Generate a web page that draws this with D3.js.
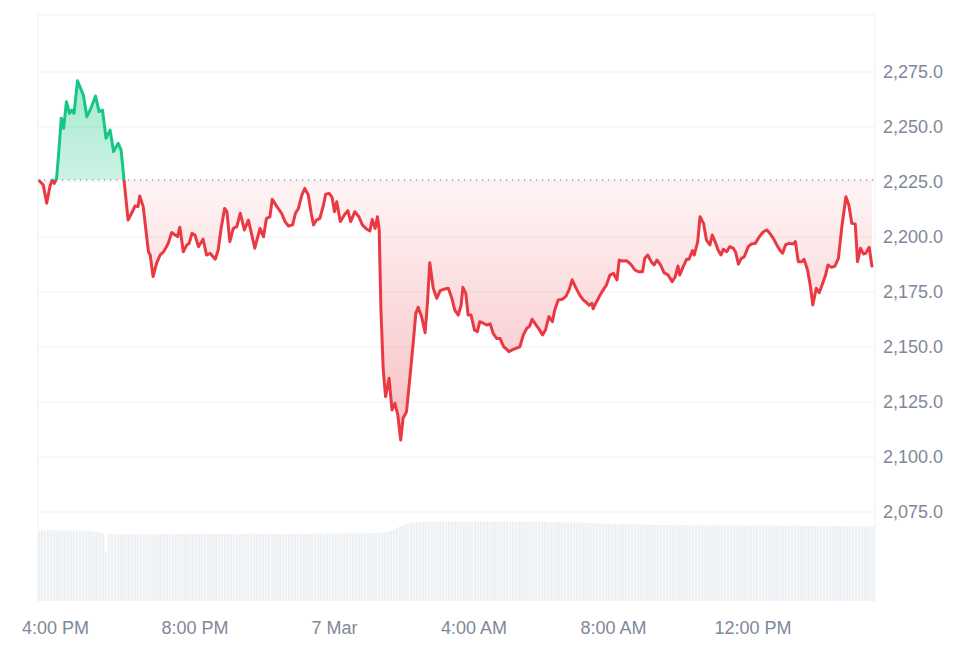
<!DOCTYPE html>
<html>
<head>
<meta charset="utf-8">
<script src="https://cdn.jsdelivr.net/npm/d3@7/dist/d3.min.js"></script>
<style>
  html, body { margin: 0; padding: 0; background: #ffffff; }
  svg { display: block; }
  text { font-family: "Liberation Sans", Arial, Helvetica, sans-serif; }
</style>
</head>
<body>
<svg id="chart" width="980" height="653"></svg>
<script>
// ---- data ----
const startTime = "2025-03-06T15:30:00";
const windowHours = 24;

// minutes after startTime
const minutes = [1,9,15,21,25,28,32,36,40,44,49,54,58,62,68,78,84,91,99,105,111,117,124,130,138,143,148,155,161,167,172,175,181,190,193,198,204,210,216,221,224,230,236,240,244,250,256,260,265,270,276,284,290,296,305,310,315,321,325,330,336,342,348,355,362,373,382,388,393,399,403,411,419,425,431,438,443,448,454,459,465,470,474,479,485,491,495,501,506,510,514,520,527,533,538,545,552,558,566,571,575,580,584,587,590,594,598,604,609,614,619,624,628,634,640,646,650,654,660,666,670,674,680,686,692,700,706,712,717,723,728,731,736,740,745,751,756,760,766,772,778,783,789,795,801,806,810,815,822,829,835,841,846,850,855,861,868,873,879,885,889,895,902,908,914,919,925,932,938,944,948,953,955,961,967,973,978,984,990,996,1000,1005,1013,1020,1027,1033,1040,1044,1049,1055,1060,1065,1071,1077,1084,1091,1096,1101,1104,1110,1116,1120,1126,1129,1135,1139,1145,1150,1156,1160,1166,1170,1175,1179,1185,1190,1196,1200,1205,1210,1215,1222,1227,1234,1241,1248,1254,1259,1265,1271,1277,1281,1286,1292,1299,1303,1308,1314,1318,1324,1329,1333,1339,1344,1350,1355,1359,1365,1371,1377,1383,1390,1395,1400,1406,1410,1415,1420,1424,1430,1435];

const prices = [2225.9,2223.6,2215.3,2223.6,2225.9,2224.4,2226.7,2239.5,2254.0,2249.4,2261.5,2256.2,2257.7,2256.2,2271.0,2264.5,2254.7,2258.5,2264.1,2257.0,2257.7,2244.9,2248.6,2238.8,2242.6,2239.5,2225.9,2207.7,2210.8,2214.1,2213.8,2218.6,2213.8,2193.3,2191.8,2182.0,2188.0,2191.8,2193.3,2195.6,2197.1,2202.0,2200.9,2200.2,2204.4,2193.3,2196.4,2197.1,2201.7,2200.9,2195.6,2199.0,2191.8,2192.6,2189.9,2194.1,2203.9,2213.0,2211.5,2197.9,2203.9,2204.7,2210.8,2203.2,2207.7,2194.9,2203.9,2200.1,2208.5,2209.2,2217.1,2213.8,2210.8,2207.0,2205.0,2205.5,2210.8,2213.0,2219.1,2222.1,2219.1,2210.8,2205.5,2207.7,2208.5,2214.5,2219.5,2219.8,2218.0,2211.5,2216.0,2207.0,2210.0,2212.0,2207.0,2211.5,2209.2,2205.5,2203.5,2202.7,2208.0,2203.9,2209.2,2203.2,2166.8,2139.5,2127.4,2135.8,2121.4,2124.4,2119.1,2107.7,2117.6,2120.6,2136.5,2153.2,2165.3,2168.0,2163.8,2156.5,2169.9,2188.3,2176.7,2172.1,2175.6,2176.4,2176.7,2172.1,2166.8,2164.5,2169.1,2177.1,2174.4,2164.5,2164.5,2157.7,2157.0,2161.5,2160.8,2160.0,2160.5,2156.2,2153.9,2153.9,2150.1,2149.1,2147.9,2148.6,2149.4,2150.1,2155.5,2158.5,2159.5,2162.6,2160.7,2158.5,2155.5,2157.7,2163.8,2161.5,2166.8,2171.4,2171.7,2172.9,2176.2,2180.5,2177.1,2173.6,2171.4,2170.1,2169.0,2169.9,2167.4,2170.6,2173.6,2176.2,2178.2,2182.7,2183.5,2180.5,2189.5,2189.1,2189.2,2187.6,2185.0,2184.2,2184.2,2190.3,2191.8,2188.8,2187.3,2189.5,2187.3,2183.8,2182.7,2179.7,2181.7,2186.8,2182.7,2186.5,2189.9,2189.9,2193.8,2191.8,2197.9,2209.2,2206.2,2198.6,2196.4,2200.9,2197.1,2194.1,2191.8,2194.4,2193.3,2195.6,2194.9,2193.3,2187.7,2190.3,2191.0,2195.6,2196.8,2197.1,2200.1,2202.4,2203.2,2201.7,2199.4,2196.4,2193.8,2192.6,2196.4,2197.1,2196.8,2197.9,2188.8,2188.8,2189.8,2185.0,2177.4,2169.1,2176.7,2174.7,2179.0,2182.7,2187.3,2186.2,2186.8,2190.3,2204.7,2218.3,2214.5,2206.2,2205.9,2188.8,2194.9,2192.3,2192.6,2195.3,2186.2];

// 24h volume (billions), one bar per 5 minutes from startTime
const volumes = [
7.85,7.92,7.80,7.88,7.83,7.90,7.86,7.79,7.84,7.88,7.82,7.76,7.85,7.80,7.78,7.83,7.74,7.80,7.77,7.72,7.70,7.55,7.52,5.40,
7.45,7.40,7.44,7.38,7.42,7.46,7.40,7.43,7.37,7.41,7.45,7.39,7.42,7.36,7.40,7.44,7.38,7.41,7.47,7.40,7.43,7.46,7.39,7.42,
7.44,7.48,7.41,7.45,7.50,7.43,7.46,7.40,7.44,7.49,7.42,7.45,7.47,7.41,7.44,7.48,7.43,7.46,7.50,7.42,7.45,7.48,7.44,7.47,
7.43,7.47,7.50,7.44,7.41,7.46,7.49,7.43,7.45,7.42,7.47,7.44,7.40,7.45,7.48,7.43,7.46,7.50,7.44,7.47,7.42,7.45,7.49,7.46,
7.48,7.52,7.46,7.50,7.55,7.49,7.53,7.47,7.51,7.56,7.50,7.54,7.48,7.52,7.58,7.51,7.55,7.60,7.53,7.57,7.62,7.56,7.60,7.65,
7.70,7.85,7.95,8.10,8.25,8.40,8.55,8.62,8.70,8.74,8.78,8.80,8.76,8.82,8.79,8.84,8.80,8.77,8.83,8.81,8.78,8.85,8.80,8.82,
8.84,8.79,8.83,8.86,8.80,8.78,8.84,8.81,8.76,8.82,8.85,8.79,8.83,8.80,8.77,8.82,8.86,8.80,8.78,8.84,8.81,8.79,8.83,8.80,
8.78,8.82,8.76,8.80,8.74,8.79,8.83,8.77,8.72,8.78,8.75,8.80,8.73,8.77,8.70,8.75,8.72,8.68,8.74,8.70,8.66,8.72,8.68,8.64,
8.62,8.58,8.60,8.55,8.59,8.52,8.56,8.50,8.54,8.58,8.51,8.55,8.49,8.53,8.57,8.50,8.46,8.52,8.48,8.44,8.50,8.46,8.42,8.48,
8.44,8.40,8.46,8.42,8.38,8.44,8.40,8.47,8.41,8.37,8.43,8.39,8.45,8.41,8.36,8.42,8.38,8.44,8.40,8.35,8.41,8.37,8.43,8.39,
8.40,8.36,8.42,8.38,8.34,8.40,8.44,8.37,8.33,8.39,8.35,8.41,8.37,8.32,8.38,8.34,8.40,8.36,8.31,8.37,8.33,8.39,8.35,8.30,
8.36,8.32,8.38,8.34,8.30,8.36,8.33,8.29,8.35,8.31,8.37,8.33,8.28,8.34,8.30,8.36,8.32,8.27,8.33,8.29,8.35,8.31,8.26,8.30
];

const yTickValues = [2075, 2100, 2125, 2150, 2175, 2200, 2225, 2250, 2275];
const xTickTimes = ["2025-03-06T16:00:00","2025-03-06T20:00:00","2025-03-07T00:00:00","2025-03-07T04:00:00","2025-03-07T08:00:00","2025-03-07T12:00:00"];
const xTickLabels = ["4:00 PM","8:00 PM","7 Mar","4:00 AM","8:00 AM","12:00 PM"];

// ---- layout ----
const L = 38, R = 875, T = 15, B = 601;
const UP = "#16c784", DOWN = "#ea3943", TXT = "#7f8899", GRID = "#eff1f4";

const t0 = new Date(startTime);
const t1 = new Date(t0.getTime() + windowHours * 3600e3);
const x = d3.scaleTime().domain([t0, t1]).range([L, R]);
const y = d3.scaleLinear().domain([2075, 2275]).range([512, 72]);
const yVol = d3.scaleLinear().domain([0, 10]).range([B, B - 90]);

const data = minutes.map((m, i) => ({ t: new Date(t0.getTime() + m * 60e3), p: prices[i] }));
const base = prices[0];
const yb = y(base);

const svg = d3.select("#chart");
const defs = svg.append("defs");

// gradients
const gUp = defs.append("linearGradient").attr("id", "gUp").attr("gradientUnits", "userSpaceOnUse")
  .attr("x1", 0).attr("x2", 0).attr("y1", y(d3.max(prices))).attr("y2", yb);
gUp.append("stop").attr("offset", 0).attr("stop-color", UP).attr("stop-opacity", 0.38);
gUp.append("stop").attr("offset", 1).attr("stop-color", UP).attr("stop-opacity", 0.22);
const gDn = defs.append("linearGradient").attr("id", "gDn").attr("gradientUnits", "userSpaceOnUse")
  .attr("x1", 0).attr("x2", 0).attr("y1", yb).attr("y2", y(d3.min(prices)));
gDn.append("stop").attr("offset", 0).attr("stop-color", DOWN).attr("stop-opacity", 0.05);
gDn.append("stop").attr("offset", 1).attr("stop-color", DOWN).attr("stop-opacity", 0.32);

defs.append("clipPath").attr("id", "cUp").append("rect")
  .attr("x", L).attr("y", 0).attr("width", R - L).attr("height", yb);
defs.append("clipPath").attr("id", "cDn").append("rect")
  .attr("x", L).attr("y", yb).attr("width", R - L).attr("height", 653 - yb);

// frame + grid
svg.append("g").selectAll("line").data(yTickValues).join("line")
  .attr("x1", L).attr("x2", R).attr("y1", d => y(d)).attr("y2", d => y(d))
  .attr("stroke", GRID).attr("stroke-width", 1);
svg.append("line").attr("x1", L).attr("x2", R).attr("y1", T).attr("y2", T).attr("stroke", GRID);
svg.append("line").attr("x1", L).attr("x2", L).attr("y1", T).attr("y2", B).attr("stroke", GRID);
svg.append("line").attr("x1", R).attr("x2", R).attr("y1", T).attr("y2", B).attr("stroke", GRID);

// volume bars
const step = (R - L) / volumes.length;
svg.append("g").selectAll("rect").data(volumes).join("rect")
  .attr("x", (d, i) => x(new Date(t0.getTime() + i * 5 * 60e3)))
  .attr("width", step - 0.5)
  .attr("y", d => yVol(d))
  .attr("height", d => B - yVol(d))
  .attr("fill", "#eef1f4");

// areas
const area = d3.area().x(d => x(d.t)).y0(yb).y1(d => y(d.p));
svg.append("path").datum(data).attr("d", area).attr("fill", "url(#gUp)").attr("clip-path", "url(#cUp)");
svg.append("path").datum(data).attr("d", area).attr("fill", "url(#gDn)").attr("clip-path", "url(#cDn)");

// baseline
svg.append("line").attr("x1", L).attr("x2", R).attr("y1", yb).attr("y2", yb)
  .attr("stroke", "#9aa0aa").attr("stroke-width", 1.3).attr("stroke-dasharray", "1.3,4.7");

// lines
const line = d3.line().x(d => x(d.t)).y(d => y(d.p));
svg.append("path").datum(data).attr("d", line).attr("fill", "none").attr("stroke", UP)
  .attr("stroke-width", 3).attr("stroke-linejoin", "round").attr("clip-path", "url(#cUp)");
svg.append("path").datum(data).attr("d", line).attr("fill", "none").attr("stroke", DOWN)
  .attr("stroke-width", 3).attr("stroke-linejoin", "round").attr("clip-path", "url(#cDn)");

// y labels
const fmt = d3.format(",.1f");
svg.append("g").selectAll("text").data(yTickValues).join("text")
  .attr("x", 883).attr("y", d => y(d)).attr("dy", "0.35em")
  .attr("fill", TXT).attr("font-size", 18).text(d => fmt(d));

// x labels
svg.append("g").selectAll("text").data(xTickTimes).join("text")
  .attr("x", d => x(new Date(d))).attr("y", 634)
  .attr("text-anchor", "middle").attr("fill", TXT).attr("font-size", 18)
  .text((d, i) => xTickLabels[i]);
</script>
</body>
</html>
